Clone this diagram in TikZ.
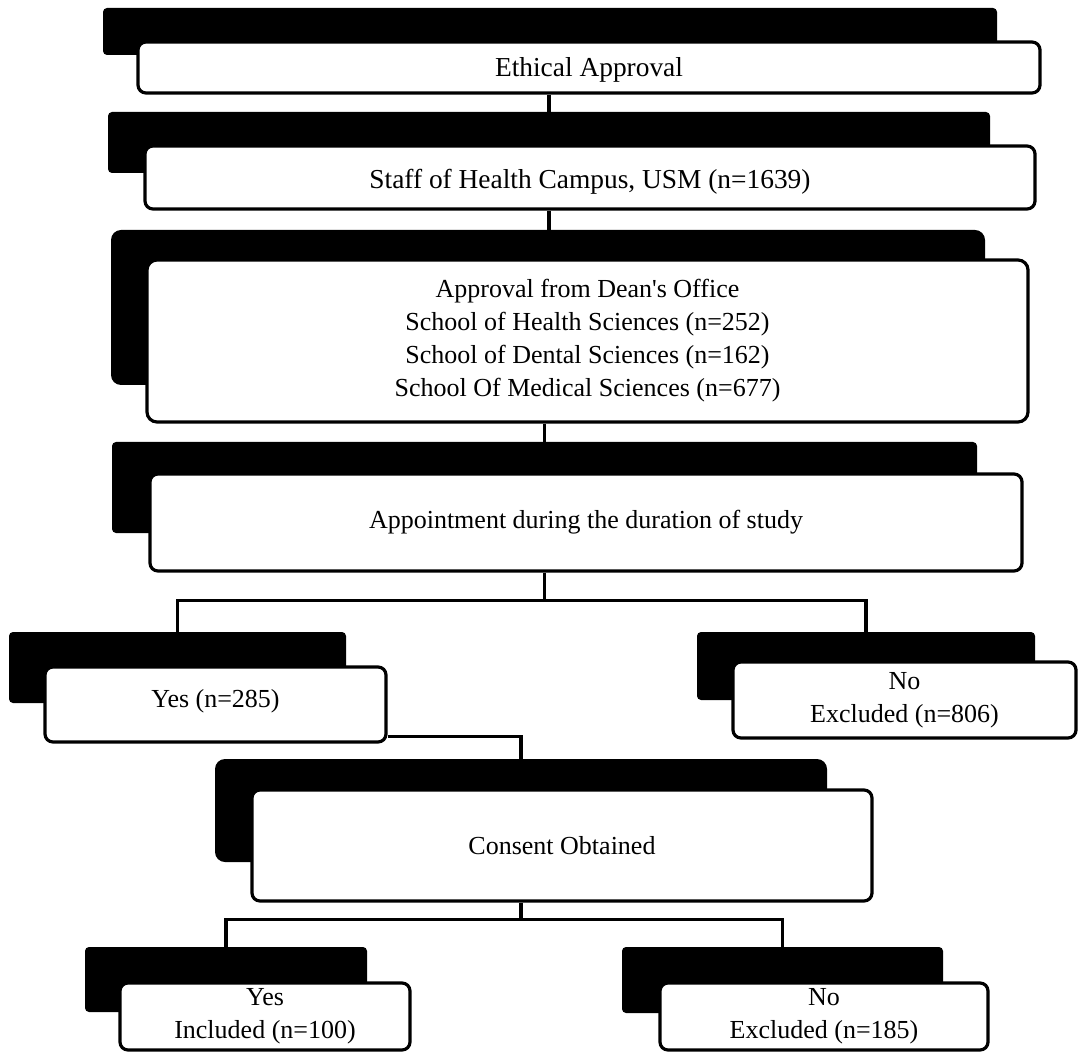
\documentclass[tikz,border=0pt]{standalone}
\usepackage{fontspec}
\setmainfont{Liberation Serif}
\usetikzlibrary{fit}

\tikzset{
  shadowbox/.style={fill=black, rounded corners=2pt, inner sep=0pt},
  box/.style={draw, fill=white, line width=1.6pt, rounded corners=4pt, inner sep=0pt},
  boxtext/.style={align=center, inner sep=0pt, font=\fontsize{13}{16.5}\selectfont},
  bigtext/.style={boxtext, font=\fontsize{13.7}{16.5}\selectfont},
  link/.style={line width=1.7pt}
}

\begin{document}
\begin{tikzpicture}[x=0.5pt, y=-0.5pt]
        \useasboundingbox (0,0) rectangle (1079,1052);
        % Ethical approval
        \node[shadowbox, fit={(103,8) (997,55)}] (ethicS) {};
        \node[box, fit={(138,42) (1040,93)},
          label={[bigtext, yshift=-1pt]center:Ethical Approval}] (ethic) {};
        % Staff
        \node[shadowbox, fit={(108,112) (990,173)}] (staffS) {};
        \node[box, fit={(145,146) (1035,209)},
          label={[bigtext, yshift=-2pt]center:Staff of Health Campus, USM (n=1639)}] (staff) {};
        % Dean's office
        \node[shadowbox, rounded corners=5pt, fit={(111,230) (985,385)}] (deanS) {};
        \node[box, rounded corners=5pt, fit={(147,260) (1028,422)},
          label={[boxtext]center:Approval from Dean\textquotesingle s Office\\
          School of Health Sciences (n=252)\\
          School of Dental Sciences (n=162)\\
          School Of Medical Sciences (n=677)}] (dean) {};
        % Appointment
        \node[shadowbox, fit={(112,442) (977,533)}] (apptS) {};
        \node[box, fit={(150,474) (1022,571)},
          label={[boxtext]center:Appointment during the duration of study}] (appt) {};
        % Yes / No
        \node[shadowbox, fit={(9,632) (346,703)}] (yesS) {};
        \node[box, fit={(45,667) (386,742)},
          label={[boxtext, yshift=1.5pt]center:Yes (n=285)}] (yes) {};
        \node[shadowbox, fit={(697,632) (1035,700)}] (noS) {};
        \node[box, fit={(733,662) (1076,738)},
          label={[boxtext]center:No\\Excluded (n=806)}] (no) {};
        % Consent
        \node[shadowbox, rounded corners=5pt, fit={(215,759) (827,862)}] (consS) {};
        \node[box, fit={(252,790) (872,901)},
          label={[boxtext]center:Consent Obtained}] (cons) {};
        % Included / Excluded
        \node[shadowbox, fit={(85,947) (367,1012)}] (inclS) {};
        \node[box, fit={(120,983) (410,1050)},
          label={[boxtext]center:Yes\\Included (n=100)}] (incl) {};
        \node[shadowbox, fit={(622,947) (943,1013)}] (exclS) {};
        \node[box, fit={(660,983) (988,1050)},
          label={[boxtext]center:No\\Excluded (n=185)}] (excl) {};
        % Liens
        \draw[link] (staffS.north |- ethic.south) -- (staffS.north);
        \draw[link] (staffS.south |- staff.south) -- (staffS.south |- deanS.north);
        \draw[link] (apptS.north |- dean.south) -- (apptS.north);
        \draw[link] (apptS.south |- appt.south) -- ++(0,28) coordinate (split1);
        \draw[link] (yesS.north) |- (split1) -| (noS.north);
        \draw[link] ([yshift=3.5pt]yes.south east) -| (consS.north);
        \draw[link] (consS.south |- cons.south) -- ++(0,17) coordinate (split2);
        \draw[link] (inclS.north) |- (split2) -| (exclS.north);
\end{tikzpicture}
\end{document}
